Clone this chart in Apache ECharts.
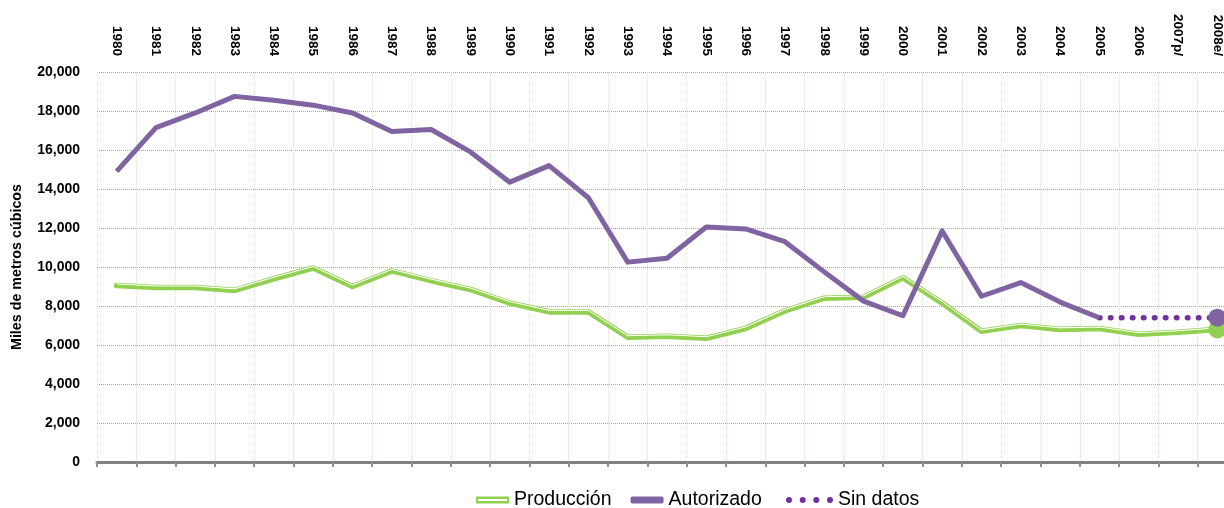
<!DOCTYPE html>
<html>
<head>
<meta charset="utf-8">
<script src="https://cdn.jsdelivr.net/npm/echarts@6/dist/echarts.min.js"></script>
<style>
  html, body { margin: 0; padding: 0; background: #fff; }
  #chart { width: 1224px; height: 508px; }
</style>
</head>
<body>
<div id="chart"></div>
<script>
  // datos (miles de metros cúbicos)
  var years = ['1980', '1981', '1982', '1983', '1984', '1985', '1986', '1987', '1988', '1989',
    '1990', '1991', '1992', '1993', '1994', '1995', '1996', '1997', '1998', '1999',
    '2000', '2001', '2002', '2003', '2004', '2005', '2006', '2007p/', '2008e/'];
  var produccion = [9050, 8950, 8950, 8800, 9400, 9950, 9000, 9800, 9300, 8850,
    8150, 7700, 7700, 6400, 6450, 6350, 6850, 7750, 8400, 8450,
    9450, 8150, 6700, 7000, 6800, 6850, 6550, 6650, 6800];
  var autorizado = [14900, 17150, 17900, 18750, 18550, 18300, 17900, 16950, 17050, 15900,
    14350, 15200, 13550, 10250, 10450, 12050, 11950, 11300, 9750, 8250,
    7500, 11850, 8500, 9200, 8200, 7400, null, null, null];
  var autorizado2008 = 7400;
  var yTicks = [0, 2000, 4000, 6000, 8000, 10000, 12000, 14000, 16000, 18000, 20000];

  var FONT = "'Liberation Sans', Arial, sans-serif";
  var GREEN = '#92D050', PURPLE = '#8064A2', DOTS = '#7030A0';

  var last = years.length - 1;
  var lastReal = 25; // 2005, último dato autorizado
  var sinDatos = years.map(function (y, i) {
    if (i === lastReal) return autorizado[lastReal];
    if (i === last) return autorizado2008;
    return null;
  });

  var chart = echarts.init(document.getElementById('chart'));
  chart.setOption({
    animation: false,
    textStyle: { fontFamily: FONT },
    grid: { left: 97, right: -13, top: 72, bottom: 46, containLabel: false, outerBoundsMode: 'none' },
    legend: [{
      left: 471, top: 485,
      itemWidth: 33, itemHeight: 7, itemGap: 19,
      textStyle: { fontFamily: FONT, fontSize: 19.5, color: '#000' },
      data: [
        { name: 'Producción', icon: 'path://M0,0 H33 V7 H0 Z M2,2.6 V4.6 H31 V2.6 Z' },
        { name: 'Autorizado', icon: 'roundRect' }
      ]
    }, {
      left: 781, top: 485,
      itemWidth: 47, itemHeight: 6,
      textStyle: { fontFamily: FONT, fontSize: 19.5, color: '#000' },
      data: [{
        name: 'Sin datos',
        icon: 'path://M0,3 a3,3 0 1,0 6,0 a3,3 0 1,0 -6,0 Z M13.7,3 a3,3 0 1,0 6,0 a3,3 0 1,0 -6,0 Z M27.3,3 a3,3 0 1,0 6,0 a3,3 0 1,0 -6,0 Z M41,3 a3,3 0 1,0 6,0 a3,3 0 1,0 -6,0 Z'
      }]
    }],
    xAxis: [{
      type: 'category',
      data: years,
      boundaryGap: true,
      position: 'bottom',
      axisLine: { lineStyle: { color: '#808080', width: 3 } },
      axisTick: { show: true, interval: 0, length: 5, lineStyle: { color: '#909090', width: 2 } },
      axisLabel: { show: false, interval: 0 },
      splitLine: { show: true, interval: 0, lineStyle: { color: '#dfe4c4', type: 'dotted', width: 1 } }
    }, {
      type: 'category',
      data: years,
      boundaryGap: true,
      position: 'top',
      axisLine: { show: false },
      axisTick: { show: false },
      splitLine: { show: false },
      axisLabel: {
        rotate: 90, margin: 16, interval: 0,
        fontFamily: FONT, fontSize: 13.5, fontWeight: 'bold', color: '#000'
      }
    }],
    yAxis: {
      type: 'value',
      min: yTicks[0],
      max: yTicks[yTicks.length - 1],
      interval: yTicks[1] - yTicks[0],
      name: 'Miles de metros cúbicos',
      nameLocation: 'middle',
      nameRotate: 90,
      nameGap: 73,
      nameTextStyle: { fontFamily: FONT, fontSize: 14.3, fontWeight: 'bold', color: '#000' },
      axisLine: { show: false },
      axisTick: { show: false },
      axisLabel: {
        margin: 17, fontFamily: FONT, fontSize: 14, fontWeight: 'bold', color: '#000',
        formatter: function (v) { return v.toLocaleString('en-US'); }
      },
      splitLine: { lineStyle: { color: '#a6a6a6', type: 'dotted', width: 1 } }
    },
    series: [
      {
        name: 'Producción',
        type: 'line',
        data: produccion,
        symbol: 'none',
        color: GREEN,
        lineStyle: { color: GREEN, width: 5.6, join: 'round', cap: 'round' },
        z: 3
      },
      {
        // línea blanca interior (línea doble)
        name: 'Producción-interior',
        type: 'line',
        data: produccion,
        symbol: 'none',
        silent: true,
        lineStyle: {
          color: GREEN, width: 1.1,
          shadowColor: '#ffffff', shadowBlur: 0, shadowOffsetX: 0, shadowOffsetY: -1.5
        },
        z: 3
      },
      {
        name: 'Autorizado',
        type: 'line',
        data: autorizado,
        symbol: 'none',
        color: PURPLE,
        lineStyle: { color: PURPLE, width: 5, join: 'round' },
        z: 4
      },
      {
        name: 'Sin datos',
        type: 'line',
        data: sinDatos,
        connectNulls: true,
        symbol: 'none',
        color: DOTS,
        lineStyle: { color: DOTS, width: 5.5, type: [0.5, 10.5], cap: 'round' },
        z: 2
      },
      {
        name: 'fin-produccion',
        type: 'scatter',
        data: [[years[last], produccion[last]]],
        symbol: 'circle',
        symbolSize: 18,
        itemStyle: { color: GREEN, opacity: 1 },
        z: 5
      },
      {
        name: 'fin-autorizado',
        type: 'scatter',
        data: [[years[last], autorizado2008]],
        symbol: 'circle',
        symbolSize: 18,
        itemStyle: { color: PURPLE, opacity: 1 },
        z: 6
      }
    ]
  });
</script>
</body>
</html>
